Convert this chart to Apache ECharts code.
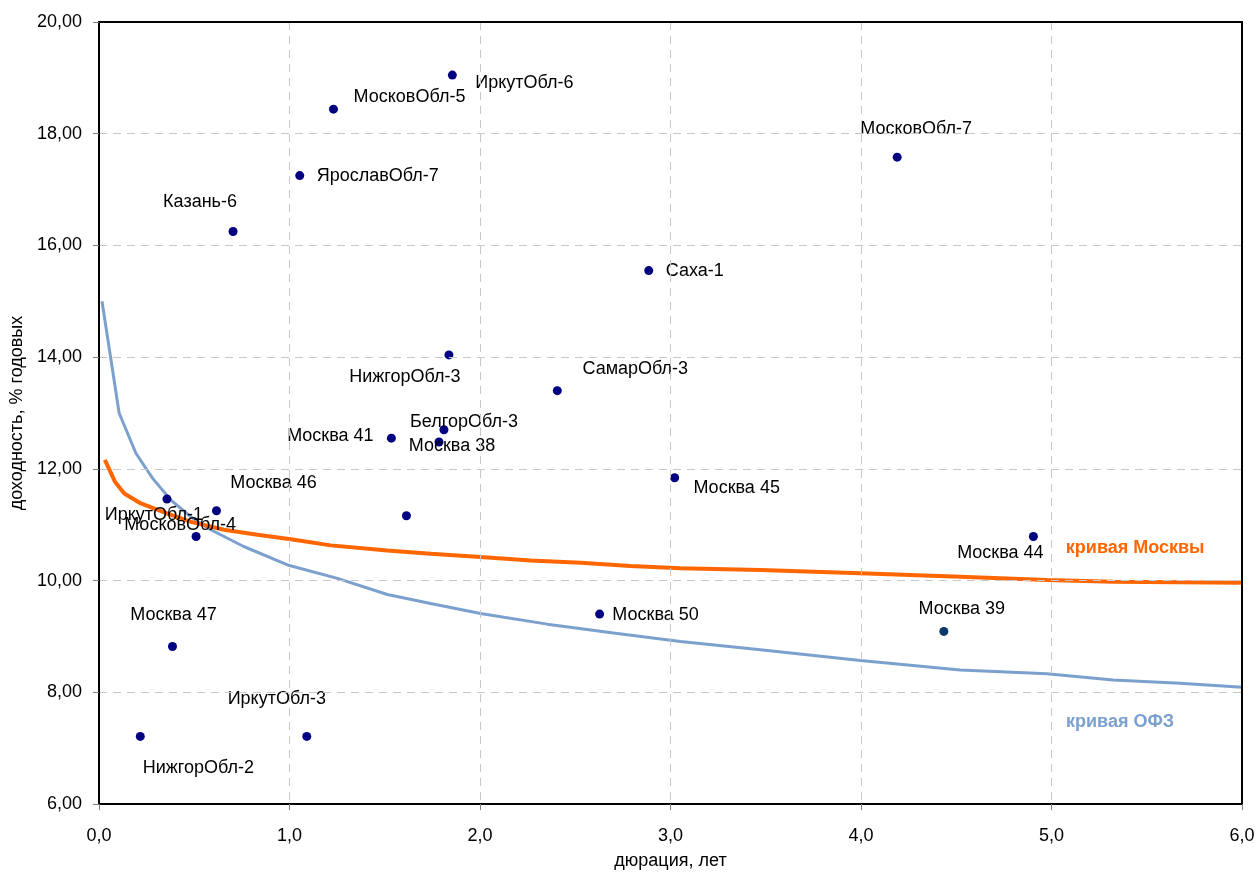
<!DOCTYPE html>
<html>
<head>
<meta charset="utf-8">
<script src="https://cdn.jsdelivr.net/npm/echarts@6/dist/echarts.min.js"></script>
<style>
html,body{margin:0;padding:0;background:#fff;}
#c{width:1258px;height:876px;}
</style>
</head>
<body>
<div id="c"></div>
<script>
// ---- data ----
const bondNames = ['ИркутОбл-6','МосковОбл-5','ЯрославОбл-7','Казань-6','МосковОбл-7','Саха-1','НижгорОбл-3','СамарОбл-3','БелгорОбл-3','Москва 38','Москва 41','','Москва 45','Москва 46','ИркутОбл-1','МосковОбл-4','Москва 44','Москва 50','Москва 39','Москва 47','НижгорОбл-2','ИркутОбл-3'];
const bondDur   = [1.855,1.231,1.054,0.704,4.19,2.886,1.837,2.406,1.811,1.785,1.535,1.614,3.022,0.617,0.357,0.510,4.905,2.628,4.435,0.386,0.217,1.091];
const bondYield = [19.05,18.44,17.25,16.25,17.58,15.55,14.04,13.40,12.70,12.48,12.55,11.16,11.84,11.25,11.46,10.79,10.79,9.40,9.09,8.82,7.21,7.21];

const ofzDur   = [0.016,0.106,0.194,0.282,0.378,0.483,0.587,0.760,0.990,1.252,1.514,1.741,2.003,2.353,2.701,3.052,3.472,3.997,4.521,4.976,5.323,5.675,6.0];
const ofzYield = [15.0,13.0,12.28,11.83,11.44,11.14,10.91,10.61,10.28,10.04,9.75,9.59,9.41,9.22,9.06,8.91,8.76,8.57,8.40,8.33,8.22,8.16,8.09];

const mosDur   = [0.031,0.084,0.133,0.220,0.360,0.483,0.656,0.832,1.007,1.217,1.514,1.741,2.003,2.266,2.528,2.790,3.052,3.472,3.997,4.521,4.976,5.323,6.0];
const mosYield = [12.16,11.77,11.56,11.38,11.20,11.05,10.91,10.82,10.74,10.63,10.54,10.48,10.42,10.36,10.32,10.26,10.22,10.19,10.13,10.07,10.01,9.98,9.96];

const xTicks = [0,1,2,3,4,5,6];
const yTicks = [6,8,10,12,14,16,18,20];

// ---- label layout (pixel offsets of label centre from the point) ----
const labelOffsets = [[72,8],[76,-12],[78,0],[-33,-29],[19,-28],[46,0],[-44,22],[78,-22],[20,-8],[13,4],[-61,-2],[0,0],[62,10],[57,-28],[-13,16],[-16,-11],[-33,17],[56,1],[18,-22],[1,-31],[58,32],[-30,-37]];
const specialColor = {18:'#0b3868'};

const FONT = '"Liberation Sans", Arial, sans-serif';

const scatterData = bondNames.map((n,i)=>{
  const item = {value:[bondDur[i],bondYield[i]], name:n};
  if (specialColor[i]) item.itemStyle = {color:specialColor[i],opacity:1};
  return item;
});

const chart = echarts.init(document.getElementById('c'), null, {renderer:'canvas'});
const fmtY = v => v.toFixed(2).replace('.',',');
const fmtX = v => v.toFixed(1).replace('.',',');
const gridLine = {show:true,lineStyle:{color:'#c8c8c8',type:[8,6],width:1}};

chart.setOption({
  animation:false,
  backgroundColor:'#fff',
  grid:{left:98,right:16,top:22,bottom:72,show:false},
  xAxis:[{
    type:'value',min:0,max:6,interval:1,
    name:'дюрация, лет',nameLocation:'middle',nameGap:48,
    nameTextStyle:{fontFamily:FONT,fontSize:18,color:'#000'},
    axisLine:{show:true,onZero:false,lineStyle:{color:'#000',width:2}},
    axisTick:{show:true,length:6,lineStyle:{color:'#808080',width:1}},
    axisLabel:{formatter:fmtX,fontFamily:FONT,fontSize:18,color:'#000',margin:23},
    splitLine:gridLine,z:10
  },{
    type:'value',min:0,max:6,interval:1,position:'top',
    axisLine:{show:true,onZero:false,lineStyle:{color:'#000',width:2}},
    axisTick:{show:false},axisLabel:{show:false},splitLine:{show:false},z:10
  }],
  yAxis:[{
    type:'value',min:6,max:20,interval:2,
    name:'доходность, % годовых',nameLocation:'middle',nameGap:70,nameRotate:90,
    nameTextStyle:{fontFamily:FONT,fontSize:18,color:'#000'},
    axisLine:{show:true,onZero:false,lineStyle:{color:'#000',width:2}},
    axisTick:{show:true,length:6,lineStyle:{color:'#808080',width:1}},
    axisLabel:{formatter:fmtY,fontFamily:FONT,fontSize:18,color:'#000',margin:17},
    splitLine:gridLine,z:10
  },{
    type:'value',min:6,max:20,interval:2,position:'right',
    axisLine:{show:true,onZero:false,lineStyle:{color:'#000',width:2}},
    axisTick:{show:false},axisLabel:{show:false},splitLine:{show:false},z:10
  }],
  series:[
    {
      type:'line',name:'кривая ОФЗ',
      data:ofzDur.map((d,i)=>[d,ofzYield[i]]),
      showSymbol:false,symbol:'none',smooth:false,
      lineStyle:{color:'#7ba0cd',width:3},
      z:2,
      markPoint:{symbol:'circle',symbolSize:0,
        data:[{coord:[5.36,7.47],value:'кривая ОФЗ'}],
        label:{show:true,formatter:'кривая ОФЗ',position:'inside',fontFamily:FONT,fontSize:18,fontWeight:'bold',color:'#7ba0cd'}}
    },
    {
      type:'line',name:'кривая Москвы',
      data:mosDur.map((d,i)=>[d,mosYield[i]]),
      showSymbol:false,symbol:'none',smooth:false,
      lineStyle:{color:'#ff6600',width:4},
      z:3,
      markPoint:{symbol:'circle',symbolSize:0,
        data:[{coord:[5.439,10.58],value:'кривая Москвы'}],
        label:{show:true,formatter:'кривая Москвы',position:'inside',fontFamily:FONT,fontSize:18,fontWeight:'bold',color:'#ff6600'}}
    },
    {
      type:'scatter',
      data:scatterData,
      symbol:'circle',symbolSize:9,
      itemStyle:{color:'#000080',opacity:1},
      z:5,
      label:{show:true,position:'inside',formatter:p=>p.name,fontFamily:FONT,fontSize:18,color:'#000',opacity:1,textBorderWidth:0},
      labelLayout:function(params){
        const o = labelOffsets[params.dataIndex];
        return {dx:o[0],dy:o[1],hideOverlap:false};
      }
    }
  ]
});
</script>
</body>
</html>
